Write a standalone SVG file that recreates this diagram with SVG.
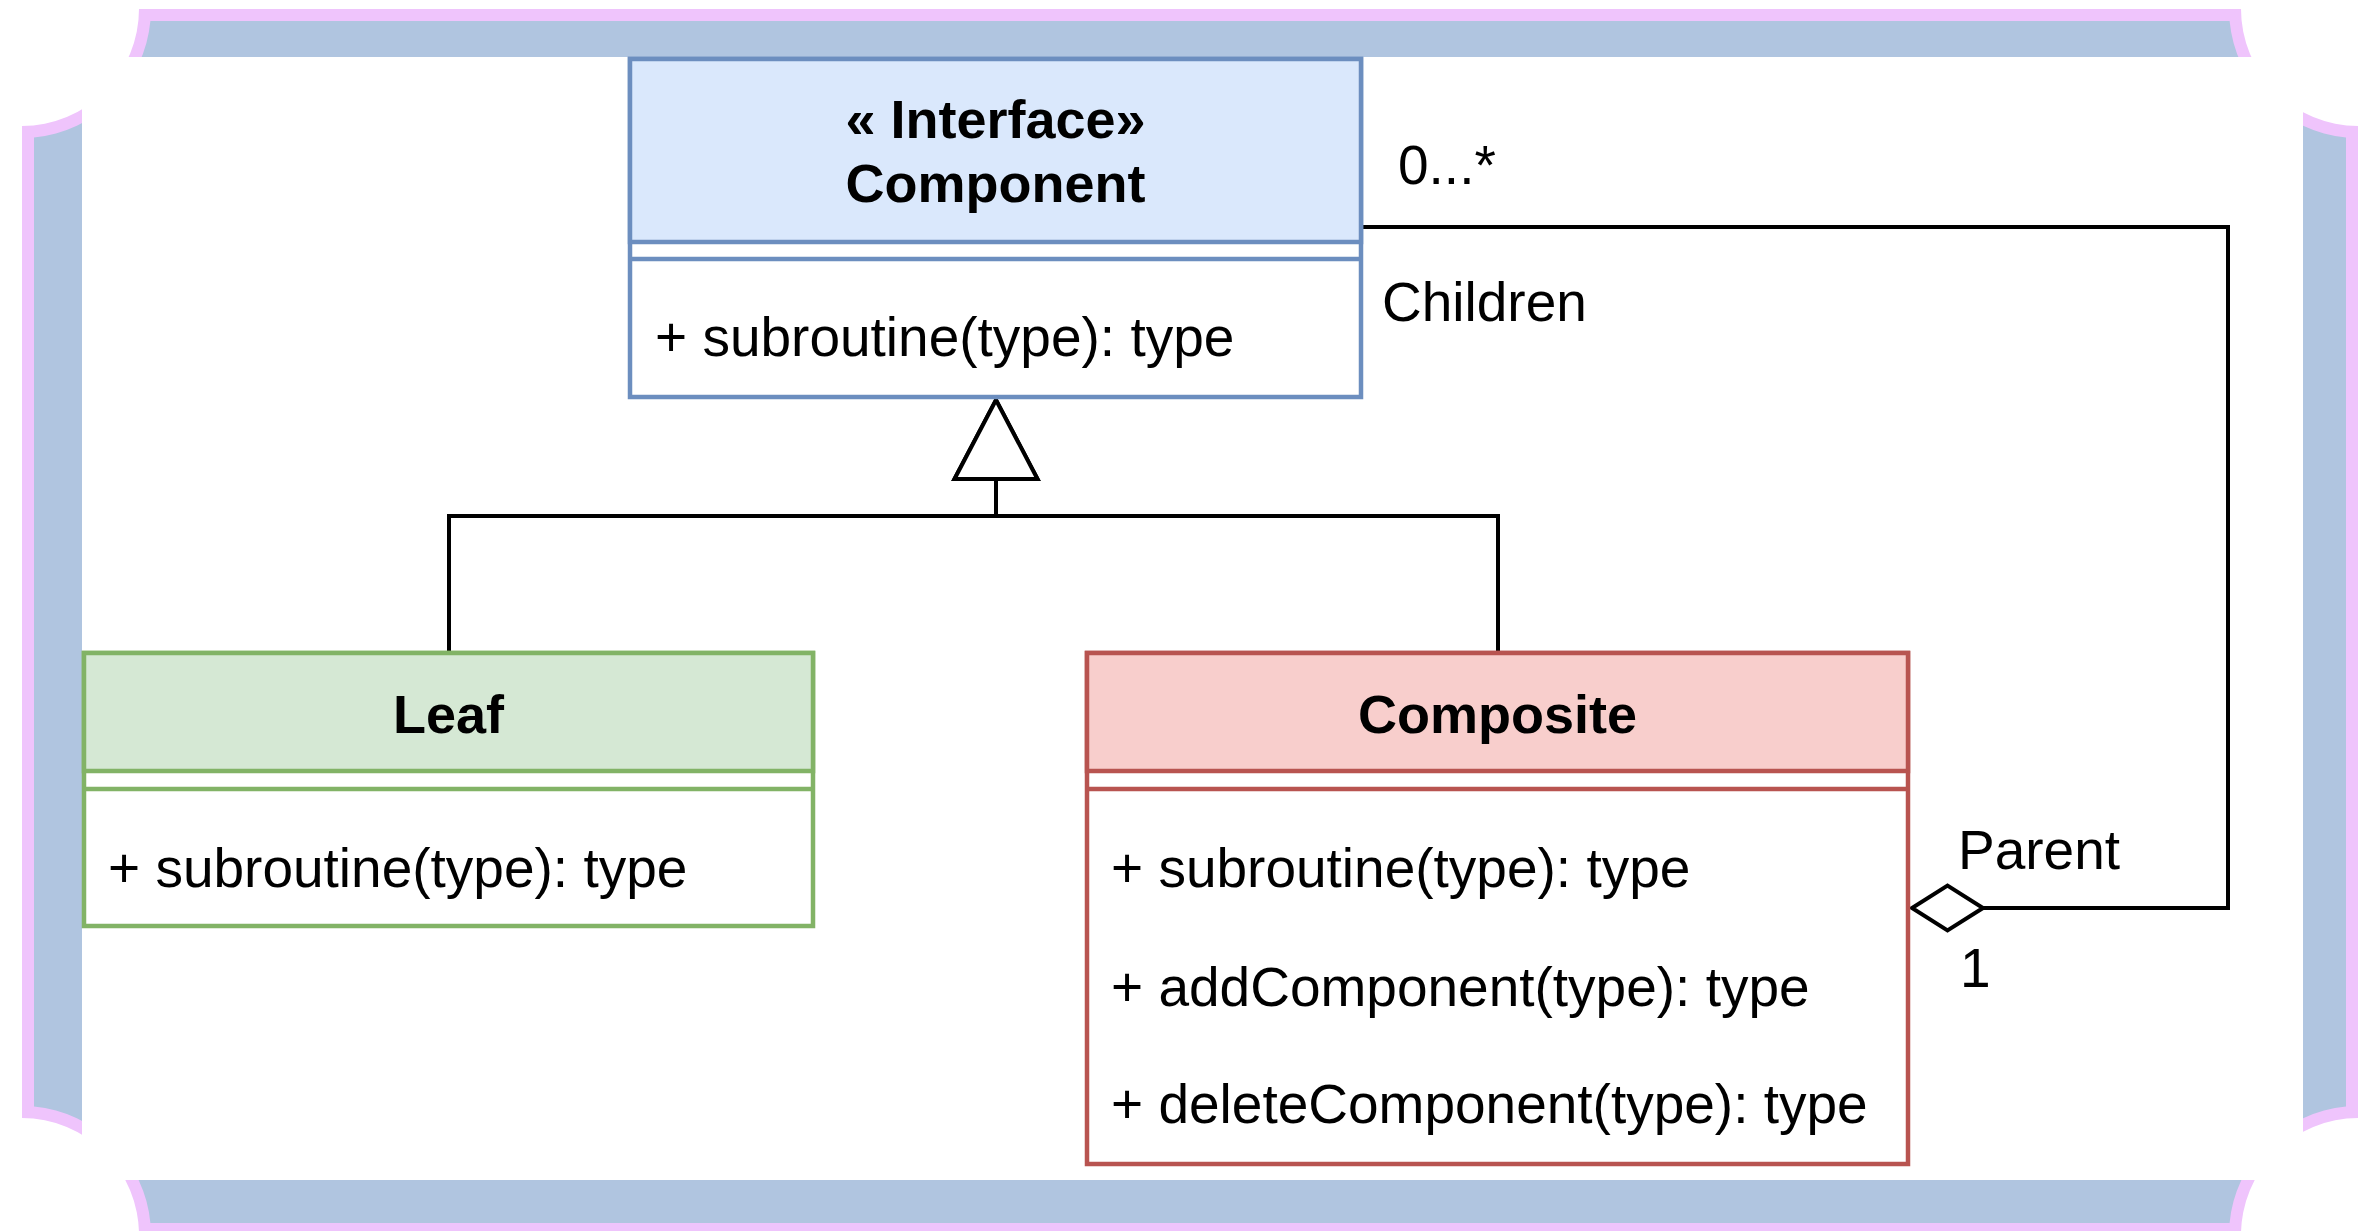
<svg xmlns="http://www.w3.org/2000/svg" width="2379" height="1231" viewBox="0 0 2379 1231">
  <style>
    text { font-family: "Liberation Sans", Arial, sans-serif; font-size: 55px; fill: #000; }
    .title { font-weight: bold; text-anchor: middle; font-size: 54px; }
    .conn { fill: none; stroke: #000; stroke-width: 4; }
    .box { stroke-width: 4.5; }
  </style>
  <defs>
    <marker id="triangle" markerUnits="userSpaceOnUse" viewBox="-4 -4 87 91" markerWidth="87" markerHeight="91" refX="0" refY="41.5" orient="auto">
      <polygon points="0,0 79,41.5 0,83" fill="#fff" stroke="#000" stroke-width="4" stroke-linejoin="miter"/>
    </marker>
    <marker id="diamond" markerUnits="userSpaceOnUse" viewBox="-4 -4 79 53" markerWidth="79" markerHeight="53" refX="71" refY="22.5" orient="auto">
      <polygon points="0,22.5 35.5,0 71,22.5 35.5,45" fill="#fff" stroke="#000" stroke-width="4"/>
    </marker>
  </defs>

  <rect width="2379" height="1231" fill="#fff"/>

  <g id="frame">
    <path d="M139,9 L2241,9 A117,117 0 0 0 2358,126 L2358,1118 A117,117 0 0 0 2241,1235 L139,1235 A117,117 0 0 0 22,1118 L22,126 A117,117 0 0 0 139,9 Z" fill="#efc4fc"/>
    <path d="M150.4,21 L2229.6,21 A129,129 0 0 0 2346,137.4 L2346,1106.6 A129,129 0 0 0 2229.6,1223 L150.4,1223 A129,129 0 0 0 34,1106.6 L34,137.4 A129,129 0 0 0 150.4,21 Z" fill="#b0c5e0"/>
    <rect x="82" y="57" width="2221" height="1123" fill="#fff"/>
  </g>

  <g id="connectors">
    <path class="conn" d="M449,653 V516 H996 V479" marker-end="url(#triangle)"/>
    <path class="conn" d="M1498,653 V516 H996 V479" marker-end="url(#triangle)"/>
    <path class="conn" d="M1361,227 H2228 V908 H1912" marker-end="url(#diamond)"/>
    <text x="1398" y="184">0...*</text>
    <text x="1382" y="321">Children</text>
    <text x="1958" y="869">Parent</text>
    <text x="1960" y="987">1</text>
  </g>

  <g id="component">
    <rect class="box" x="630" y="59" width="731" height="338" fill="#fff" stroke="#6c8ebf"/>
    <rect class="box" x="630" y="59" width="731" height="183" fill="#dae8fc" stroke="#6c8ebf"/>
    <line class="box" x1="630" y1="259" x2="1361" y2="259" stroke="#6c8ebf"/>
    <text class="title" x="995.5" y="138">« Interface»</text>
    <text class="title" x="995.5" y="202">Component</text>
    <text x="655" y="356">+ subroutine(type): type</text>
  </g>

  <g id="leaf">
    <rect class="box" x="84" y="653" width="729" height="273" fill="#fff" stroke="#82b366"/>
    <rect class="box" x="84" y="653" width="729" height="118" fill="#d5e8d4" stroke="#82b366"/>
    <line class="box" x1="84" y1="789" x2="813" y2="789" stroke="#82b366"/>
    <text class="title" x="448.5" y="733">Leaf</text>
    <text x="108" y="887">+ subroutine(type): type</text>
  </g>

  <g id="composite">
    <rect class="box" x="1087" y="653" width="821" height="511" fill="#fff" stroke="#b85450"/>
    <rect class="box" x="1087" y="653" width="821" height="118" fill="#f8cecc" stroke="#b85450"/>
    <line class="box" x1="1087" y1="789" x2="1908" y2="789" stroke="#b85450"/>
    <text class="title" x="1497.5" y="733">Composite</text>
    <text x="1111" y="887">+ subroutine(type): type</text>
    <text x="1111" y="1006">+ addComponent(type): type</text>
    <text x="1111" y="1123">+ deleteComponent(type): type</text>
  </g>
</svg>
